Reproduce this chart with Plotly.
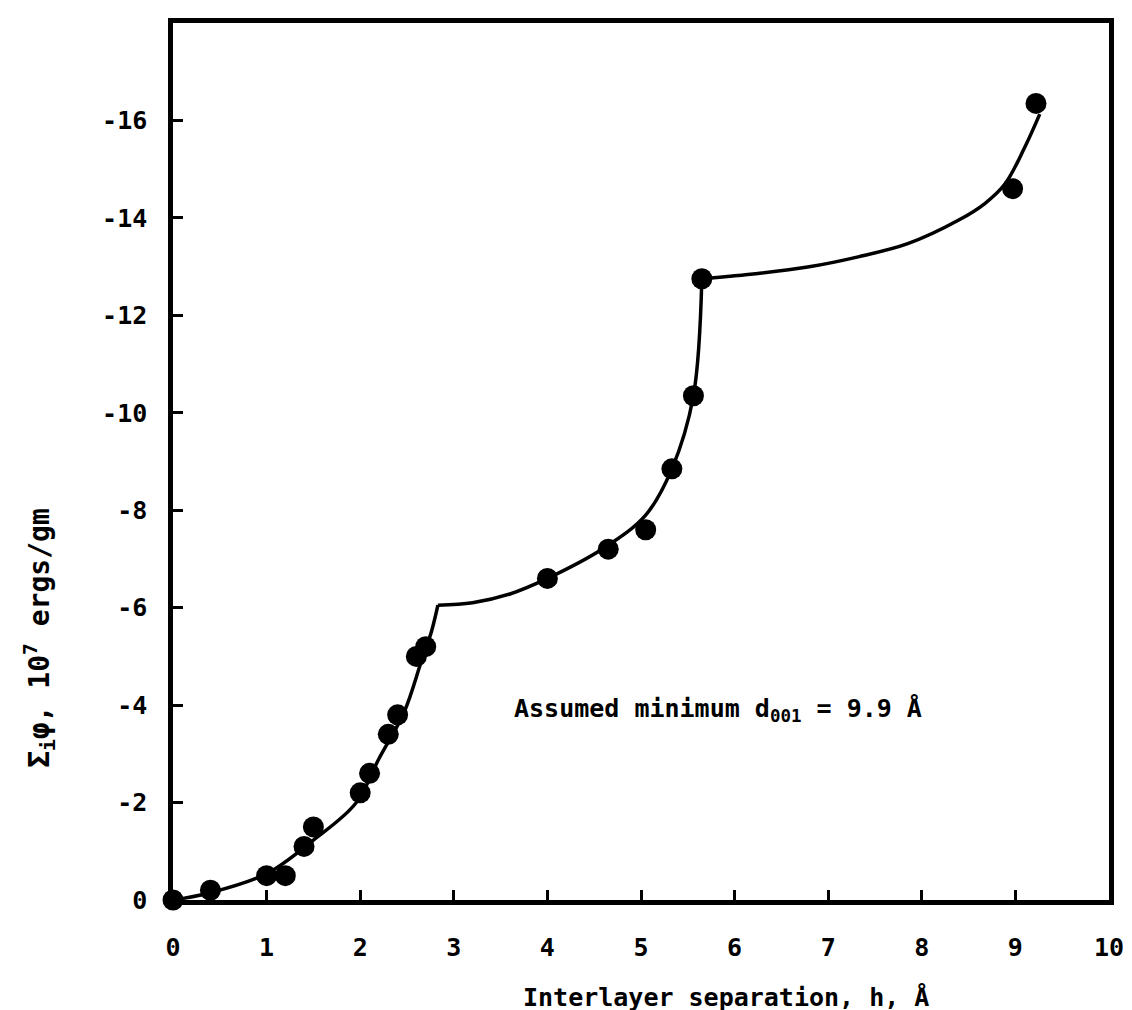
import plotly.graph_objects as go

# Measured points (interlayer separation h in Å, energy in 10^7 ergs/gm)
h_pts = [0, 0.4, 1.0, 1.2, 1.4, 1.5, 2.0, 2.1, 2.3, 2.4, 2.6, 2.7,
         4.0, 4.65, 5.05, 5.33, 5.56, 5.65, 8.97, 9.22]
phi_pts = [0, -0.2, -0.5, -0.5, -1.1, -1.5, -2.2, -2.6, -3.4, -3.8, -5.0, -5.2,
           -6.6, -7.2, -7.6, -8.85, -10.35, -12.75, -14.6, -16.35]

# Hand-drawn curve in three branches
curve1_h = [0, 0.4, 1.0, 1.5, 1.95, 2.2, 2.47, 2.65, 2.76, 2.83]
curve1_phi = [0, -0.15, -0.54, -1.23, -1.98, -2.9, -3.86, -4.88, -5.5, -6.05]
curve2_h = [2.83, 3.2, 3.6, 4.0, 4.6, 5.05, 5.33, 5.56, 5.65]
curve2_phi = [-6.05, -6.1, -6.28, -6.6, -7.22, -7.9, -8.85, -10.35, -12.75]
curve3_h = [5.65, 6.25, 6.78, 7.32, 7.85, 8.39, 8.67, 8.89, 9.1, 9.26]
curve3_phi = [-12.75, -12.86, -12.99, -13.2, -13.47, -13.95, -14.29, -14.7, -15.45, -16.13]

x_ticks = [0, 1, 2, 3, 4, 5, 6, 7, 8, 9, 10]
x_ticktext = ["0", "1", "2", "3", "4", "5", "6", "7", "8", "9", "10"]
y_ticks = [0, -2, -4, -6, -8, -10, -12, -14, -16]
y_ticktext = ["0", "-2", "-4", "-6", "-8", "-10", "-12", "-14", "-16"]

FONT = "DejaVu Sans Mono"

fig = go.Figure()
for cx, cy in [(curve1_h, curve1_phi), (curve2_h, curve2_phi), (curve3_h, curve3_phi)]:
    fig.add_trace(go.Scatter(x=cx, y=cy, mode="lines",
                             line=dict(color="black", width=3.5, shape="spline", smoothing=1.0),
                             hoverinfo="skip", showlegend=False))
fig.add_trace(go.Scatter(x=h_pts, y=phi_pts, mode="markers",
                         marker=dict(color="black", size=21),
                         showlegend=False, cliponaxis=False))

fig.update_layout(
    width=1132, height=1010,
    margin=dict(l=165, r=31, t=10, b=118),
    paper_bgcolor="white", plot_bgcolor="white",
    font=dict(family=FONT, size=25, color="black"),
    showlegend=False,
)
fig.update_xaxes(range=[0, 10], tickvals=x_ticks, ticktext=x_ticktext,
                 ticks="inside", ticklen=10, tickwidth=3, tickcolor="black",
                 showline=True, linewidth=4.5, linecolor="black", mirror=True,
                 showgrid=False, zeroline=False, ticklabelstandoff=21,
                 tickfont=dict(family=FONT, size=25, color="black", weight="bold"))
fig.update_yaxes(range=[0, -18], tickvals=y_ticks, ticktext=y_ticktext,
                 ticks="inside", ticklen=10, tickwidth=3, tickcolor="black",
                 showline=True, linewidth=4.5, linecolor="black", mirror=True,
                 showgrid=False, zeroline=False, ticklabelstandoff=16,
                 tickfont=dict(family=FONT, size=25, color="black", weight="bold"))

fig.add_annotation(text="Interlayer separation, h, Å", xref="paper", yref="paper",
                   x=0.591, y=-0.111, xanchor="center", yanchor="middle", showarrow=False,
                   font=dict(family=FONT, size=25, color="black", weight="bold"))
fig.add_annotation(text="Σ<sub>i</sub>φ, 10<sup>7</sup> ergs/gm", xref="paper", yref="paper",
                   x=-0.142, y=0.299, xanchor="center", yanchor="middle", showarrow=False,
                   textangle=-90,
                   font=dict(family=FONT, size=28, color="black", weight="bold"))
fig.add_annotation(text="Assumed minimum d<sub>001</sub> = 9.9 Å", xref="x", yref="y",
                   x=3.62, y=-3.9, xanchor="left", yanchor="middle", showarrow=False,
                   font=dict(family=FONT, size=25, color="black", weight="bold"))

fig.write_html("out.html")
